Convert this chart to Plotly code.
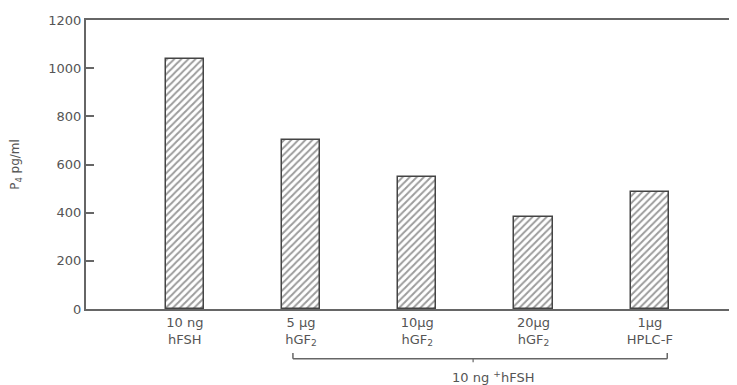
import plotly.graph_objects as go

categories = ["10 ng<br>hFSH", "5 \u00b5g<br>hGF<sub>2</sub>", "10\u00b5g<br>hGF<sub>2</sub>",
              "20\u00b5g<br>hGF<sub>2</sub>", "1\u00b5g<br>HPLC-F"]
positions = [1, 2, 3, 4, 5]
values = [1040, 700, 550, 380, 485]
y_ticks = [0, 200, 400, 600, 800, 1000, 1200]

ink = "#555555"
font = dict(family="DejaVu Sans", size=13, color=ink)

fig = go.Figure()
fig.add_trace(go.Bar(
    x=positions, y=values, width=0.33,
    marker=dict(color="white",
                line=dict(color="#444444", width=1.5),
                pattern=dict(shape="/", fgcolor="#3a3a3a", bgcolor="white",
                             size=5, solidity=0.4)),
    showlegend=False,
))

# page body has an 8px default margin; compensate so the plot sits where the reference's does
fig.update_layout(
    width=729, height=377,
    margin=dict(l=78, r=0, t=12, b=76),
    paper_bgcolor="white", plot_bgcolor="white",
    font=font,
    bargap=0,
)
fig.update_xaxes(
    range=[0.15, 5.75], tickmode="array", tickvals=positions, ticktext=categories,
    showline=True, linecolor="#666666", linewidth=2, mirror=True,
    showgrid=False, zeroline=False, ticks="", tickfont=font, automargin=False,
)
fig.update_yaxes(
    range=[0, 1200], tickmode="array", tickvals=y_ticks,
    ticktext=[str(v) for v in y_ticks],
    showline=True, linecolor="#666666", linewidth=2,
    showgrid=False, zeroline=False, ticks="inside", ticklen=8, tickwidth=1.5,
    tickcolor="#666666", tickfont=dict(family="DejaVu Sans", size=13, color=ink),
    title=dict(text="P<sub>4</sub> pg/ml", font=dict(family="DejaVu Sans", size=12, color=ink),
               standoff=26),
    automargin=False,
)

# bracket below categories 2-5
bx0, bx1 = 1.93, 5.15
by = -0.172
fig.add_shape(type="line", xref="x", yref="paper", x0=bx0, x1=bx1, y0=by, y1=by,
              line=dict(color="#666666", width=1.5))
fig.add_shape(type="line", xref="x", yref="paper", x0=bx0, x1=bx0, y0=by, y1=by + 0.02,
              line=dict(color="#666666", width=1.5))
fig.add_shape(type="line", xref="x", yref="paper", x0=bx1, x1=bx1, y0=by, y1=by + 0.02,
              line=dict(color="#666666", width=1.5))
fig.add_shape(type="line", xref="x", yref="paper", x0=3.48, x1=3.48, y0=by, y1=by - 0.012,
              line=dict(color="#666666", width=1.2))
fig.add_annotation(xref="x", yref="paper", x=3.65, y=-0.235, yanchor="middle",
                   text="10 ng <sup>+</sup>hFSH", showarrow=False, font=font)

fig.write_html("out.html")
